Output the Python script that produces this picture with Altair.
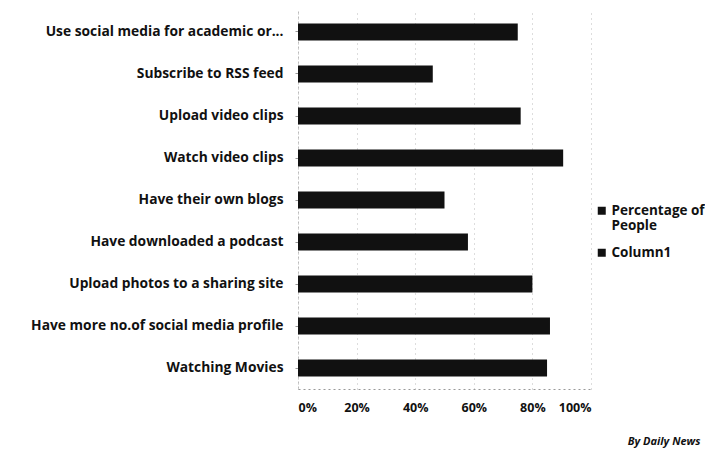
import altair as alt
import pandas as pd

categories = [
    "Use social media for academic or...",
    "Subscribe to RSS feed",
    "Upload video clips",
    "Watch video clips",
    "Have their own blogs",
    "Have downloaded a podcast",
    "Upload photos to a sharing site",
    "Have more no.of social media profile",
    "Watching Movies",
]
values = [0.75, 0.46, 0.76, 0.905, 0.50, 0.58, 0.80, 0.86, 0.85]
series = ["Percentage of People"] * len(categories)
legend_domain = ["Percentage of People", "Column1"]
tick_values = [0, 0.2, 0.4, 0.6, 0.8, 1.0]

df = pd.DataFrame({"activity": categories, "pct": values, "series": series})

FONT = "Open Sans"

bars = alt.Chart(df).mark_bar(color="#111111").encode(
    y=alt.Y(
        "activity:N",
        sort=categories,
        title=None,
        scale=alt.Scale(paddingInner=0.6, paddingOuter=0.3),
        axis=alt.Axis(
            labelFont=FONT, labelFontWeight="bold", labelFontSize=13.8,
            labelColor="#111111", labelLimit=300, labelPadding=12,
            ticks=True, tickSize=3, tickColor="#999999",
            domain=True, domainColor="#bbbbbb", domainDash=[2, 3],
        ),
    ),
    x=alt.X(
        "pct:Q",
        title="By Daily News",
        scale=alt.Scale(domain=[0, 1], nice=False),
        axis=alt.Axis(
            values=tick_values, format=".0%",
            labelFont=FONT, labelFontWeight="bold", labelFontSize=12.5,
            labelColor="#111111", labelPadding=12,
            grid=True, gridColor="#bbbbbb", gridDash=[1, 4], gridWidth=1,
            ticks=False, domain=True, domainColor="#999999", domainDash=[2, 3],
            titleFont=FONT, titleFontSize=11, titleFontWeight="bold",
            titleFontStyle="italic", titleColor="#111111",
            titleAlign="right", titleAnchor="end", titleBaseline="alphabetic",
            titleX=402, titleY=55,
        ),
    ),
    color=alt.Color(
        "series:N",
        scale=alt.Scale(domain=legend_domain, range=["#111111", "#111111"]),
        legend=alt.Legend(
            title=None, orient="none", legendX=297, legendY=193,
            symbolType="square", symbolSize=64, symbolStrokeWidth=0,
            labelFont=FONT, labelFontWeight="bold", labelFontSize=13.5,
            labelColor="#111111", rowPadding=12, labelLimit=200, labelOffset=3,
            labelExpr="datum.label == 'Percentage of People' ? ['Percentage of', 'People'] : datum.label",
        ),
    ),
)

chart = bars.properties(
    width=293,
    height=378,
    autosize=alt.AutoSizeParams(type="none"),
    padding={"left": 290, "top": 3, "right": 114, "bottom": 60},
    background="white",
).configure_view(stroke=None).configure_text(lineHeight=17)

chart.save("out.html", embed_options={"renderer": "svg", "actions": False})
